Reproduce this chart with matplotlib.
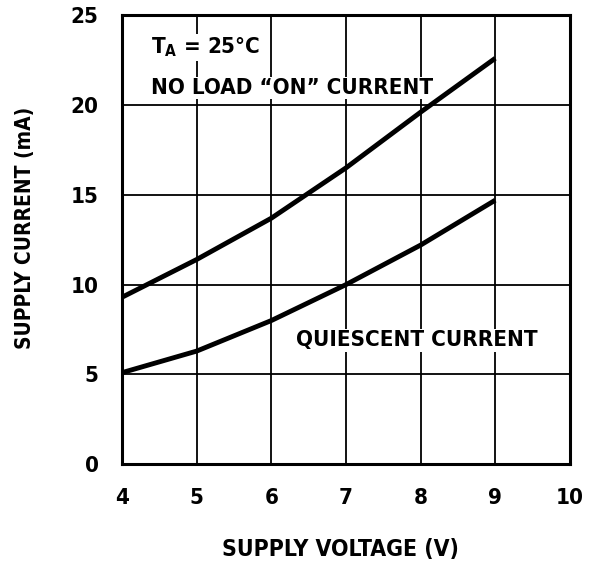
import matplotlib.pyplot as plt

volts = [4, 5, 6, 7, 8, 9]
on_current = [9.3, 11.4, 13.7, 16.5, 19.6, 22.6]
quiescent = [5.1, 6.3, 8.0, 10.0, 12.2, 14.7]

x_ticks = [4, 5, 6, 7, 8, 9, 10]
y_ticks = [0, 5, 10, 15, 20, 25]

plt.rcParams['font.family'] = ['DejaVu Sans']
plt.rcParams['font.stretch'] = 'condensed'
plt.rcParams['font.weight'] = 'bold'
plt.rcParams['axes.labelweight'] = 'bold'

fig = plt.figure(figsize=(5.93, 5.62), dpi=100)
ax = fig.add_axes([0.206, 0.174, 0.755, 0.799])

ax.set_xlim(4, 10)
ax.set_ylim(0, 25)
ax.set_xticks(x_ticks)
ax.set_yticks(y_ticks)
ax.grid(True, color='black', linewidth=1.3)
ax.tick_params(length=0, labelsize=16)
ax.tick_params(axis='x', pad=17)
ax.tick_params(axis='y', pad=17)
for s in ax.spines.values():
    s.set_linewidth(2.2)

ax.plot(volts, on_current, color='black', linewidth=3.5, solid_capstyle='butt', zorder=3)
ax.plot(volts, quiescent, color='black', linewidth=3.5, solid_capstyle='butt', zorder=3)

box = dict(facecolor='white', edgecolor='none', pad=1)
ax.text(4.38, 23.2, r'T$_\mathbf{A}$ = 25°C', fontsize=16, va='center', ha='left', bbox=box,
        zorder=2)
ax.text(4.38, 20.95, 'NO LOAD \u201cON\u201d CURRENT', fontsize=16, va='center', ha='left',
        bbox=box, zorder=2)
ax.text(6.33, 6.9, 'QUIESCENT CURRENT', fontsize=16, va='center', ha='left', bbox=box,
        zorder=2)

ax.set_xlabel('SUPPLY VOLTAGE (V)', fontsize=16.5)
ax.set_ylabel('SUPPLY CURRENT (mA)', fontsize=15)
ax.xaxis.set_label_coords(0.487, -0.165)
ax.yaxis.set_label_coords(-0.195, 0.526)

plt.savefig('out.png', dpi=100)
